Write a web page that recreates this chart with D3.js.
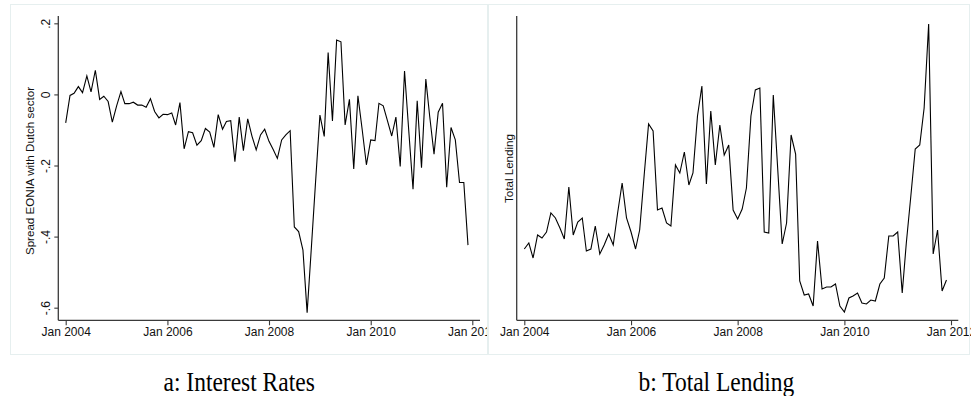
<!DOCTYPE html>
<html>
<head>
<meta charset="utf-8">
<script src="https://cdn.jsdelivr.net/npm/d3@7"></script>
<style>
  html, body { margin: 0; padding: 0; background: #fff; }
  svg { display: block; }
</style>
</head>
<body>
<svg id="chart" width="971" height="396"></svg>
<script>
// Monthly observations, Jan 2004 - Dec 2011
const startMonth = new Date(Date.UTC(2004, 0, 1));
const endMonth = new Date(Date.UTC(2012, 0, 1));
const months = d3.utcMonths(startMonth, endMonth);

// Spread of EONIA with the Dutch sector rate (percentage points)
const spread = [
  -0.080, -0.003, 0.003, 0.022, 0.005, 0.052, 0.007, 0.068, -0.014, -0.005, -0.020, -0.078,
  -0.032, 0.008, -0.026, -0.026, -0.022, -0.030, -0.030, -0.036, -0.012, -0.048, -0.066, -0.056,
  -0.057, -0.052, -0.086, -0.023, -0.153, -0.105, -0.108, -0.143, -0.130, -0.096, -0.106, -0.149,
  -0.057, -0.098, -0.076, -0.074, -0.189, -0.064, -0.158, -0.069, -0.118, -0.156, -0.114, -0.098,
  -0.132, -0.156, -0.180, -0.128, -0.114, -0.102, -0.373, -0.386, -0.438, -0.614, -0.428, -0.244,
  -0.058, -0.118, 0.118, -0.075, 0.153, 0.148, -0.086, -0.014, -0.210, -0.004, -0.100, -0.198,
  -0.128, -0.130, -0.025, -0.032, -0.074, -0.117, -0.064, -0.203, 0.066, -0.100, -0.267, -0.018,
  -0.206, 0.043, -0.062, -0.168, -0.050, -0.025, -0.261, -0.093, -0.128, -0.248, -0.248, -0.424
];

// Total lending (index units)
const lending = [
  71, 77, 62, 85, 82, 88, 107, 102, 92, 81, 133, 85,
  98, 102, 69, 71, 94, 66, 75, 86, 75, 107, 137, 102,
  88, 71, 90, 145, 196, 189, 110, 112, 97, 94, 155, 147,
  168, 135, 147, 204, 234, 136, 209, 155, 195, 165, 175, 110,
  101, 111, 132, 204, 230, 232, 88, 87, 225, 152, 76, 97,
  185, 166, 39, 25, 26, 14, 79, 31, 33, 33, 36, 14,
  8, 22, 24, 27, 17, 16, 20, 19, 36, 42, 84, 84,
  88, 27, 77, 124, 171, 175, 212, 296, 66, 90, 29, 40
];

// Axis tick positions and labels
const xTickDates = [2004, 2006, 2008, 2010, 2012].map(y => new Date(Date.UTC(y, 0, 1)));
const xTickFormat = d3.utcFormat("Jan %Y");
const spreadTicks = [0.2, 0, -0.2, -0.4, -0.6];
const spreadTickLabels = [".2", "0", "-.2", "-.4", "-.6"];

const captions = ["a: Interest Rates", "b: Total Lending"];
const yTitles = ["Spread EONIA with Dutch sector", "Total Lending"];

const svg = d3.select("#chart");
const sans = "'Liberation Sans', Arial, Helvetica, sans-serif";
const serif = "'Liberation Serif', 'Times New Roman', serif";

const panels = [
  {
    frame: [10, 4, 488, 355], clipRight: 488,
    axisX: 58.3, axisTop: 16, axisBottom: 320.3, axisRight: 480,
    x0: 65.7, x1: 472.3,
    yDomain: [-0.6355, 0.2206],
    values: spread, ticks: true,
    title: yTitles[0], titleX: 33.5, titleY: 171,
    caption: captions[0], capX: 163.5
  },
  {
    frame: [488, 4, 970, 355], clipRight: 971,
    axisX: 516.7, axisTop: 16, axisBottom: 320.3, axisRight: 958.3,
    x0: 524.3, x1: 951,
    yDomain: [-0.3, 304],
    values: lending, ticks: false,
    title: yTitles[1], titleX: 513, titleY: 168.5,
    caption: captions[1], capX: 638.5
  }
];

panels.forEach((p, k) => {
  const [fx0, fy0, fx1, fy1] = p.frame;
  const clipId = "clip" + k;
  svg.append("clipPath").attr("id", clipId)
    .append("rect").attr("x", fx0).attr("y", fy0).attr("width", p.clipRight - fx0).attr("height", fy1 - fy0);

  const g = svg.append("g").attr("clip-path", `url(#${clipId})`);

  const x = d3.scaleUtc().domain([xTickDates[0], xTickDates[4]]).range([p.x0, p.x1]);
  const y = d3.scaleLinear().domain(p.yDomain).range([p.axisBottom, p.axisTop]);

  // Y axis
  const yAxis = d3.axisLeft(y).tickSize(4).tickPadding(3);
  if (p.ticks) {
    yAxis.tickValues(spreadTicks).tickFormat((d, i) => spreadTickLabels[i]);
  } else {
    yAxis.tickValues([]);
  }
  const gy = g.append("g").attr("transform", `translate(${p.axisX},0)`).call(yAxis);
  gy.select(".domain").attr("d", `M0,${p.axisTop}V${p.axisBottom}`)
    .attr("stroke", "#3a3a3a").attr("stroke-width", 1.3);
  gy.selectAll(".tick line").attr("stroke", "#3a3a3a").attr("stroke-width", 1.1);
  gy.selectAll(".tick text")
    .attr("font-family", sans).attr("font-size", 12).attr("fill", "#111")
    .attr("text-anchor", "middle")
    .attr("x", null).attr("dy", null)
    .attr("transform", "translate(-8,0) rotate(-90)")
    .attr("y", 0);

  // X axis
  const xAxis = d3.axisBottom(x).tickValues(xTickDates).tickFormat(xTickFormat)
    .tickSize(5).tickPadding(2);
  const gx = g.append("g").attr("transform", `translate(0,${p.axisBottom})`).call(xAxis);
  gx.select(".domain").attr("d", `M${p.axisX},0H${p.axisRight}`)
    .attr("stroke", "#3a3a3a").attr("stroke-width", 1.3);
  gx.selectAll(".tick line").attr("stroke", "#3a3a3a").attr("stroke-width", 1.1);
  gx.selectAll(".tick text").attr("font-family", sans).attr("font-size", 12).attr("fill", "#111");

  // Y title
  g.append("text")
    .attr("transform", `translate(${p.titleX},${p.titleY}) rotate(-90)`)
    .attr("text-anchor", "middle")
    .attr("font-family", sans).attr("font-size", 11.6).attr("fill", "#111")
    .text(p.title);

  // Series line
  const line = d3.line()
    .x((d, i) => x(months[i]))
    .y(d => y(d));
  g.append("path")
    .datum(p.values)
    .attr("d", line)
    .attr("fill", "none")
    .attr("stroke", "#000")
    .attr("stroke-width", 1.1)
    .attr("stroke-linejoin", "miter");

  // Panel frame
  svg.append("rect")
    .attr("x", fx0 + 0.5).attr("y", fy0 + 0.5)
    .attr("width", fx1 - fx0 - 1).attr("height", fy1 - fy0 - 1)
    .attr("fill", "none").attr("stroke", "#e6efef").attr("stroke-width", 1);

  // Caption below the panel
  svg.append("text")
    .attr("transform", `translate(${p.capX},390.5) scale(1,1.2)`)
    .attr("font-family", serif).attr("font-size", 23.5).attr("fill", "#000")
    .text(p.caption);
});
</script>
</body>
</html>
